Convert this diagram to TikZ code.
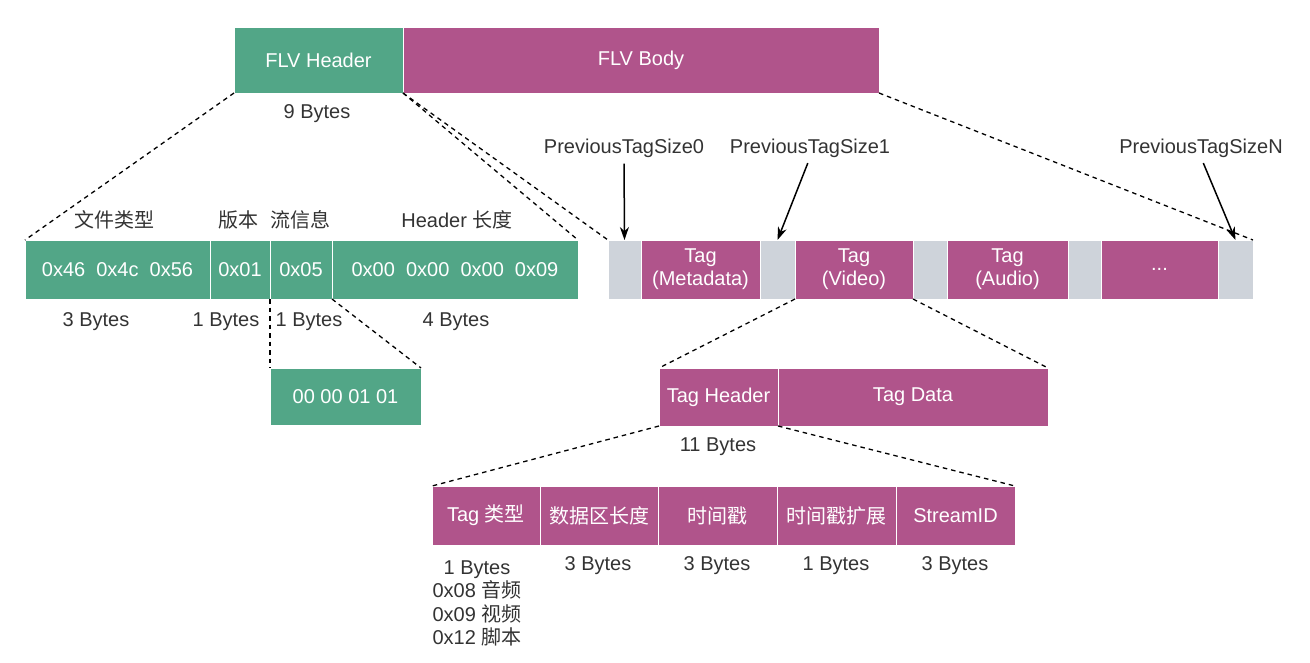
\documentclass[tikz,border=0pt]{standalone}
\usepackage{fontspec}
\setmainfont{Liberation Sans}
\newfontfamily\cjk{Noto Sans CJK SC}
\usetikzlibrary{arrows.meta}

\definecolor{flvgreen}{HTML}{52A687}
\definecolor{flvpink}{HTML}{B0548B}
\definecolor{flvgray}{HTML}{CED3DA}
\definecolor{flvtext}{HTML}{333333}

\begin{document}
\begin{tikzpicture}[x=1pt, y=-1pt,
	cell/.style={draw=white, line width=1pt, anchor=north west, inner sep=0pt, outer sep=0pt,
		text=white, align=center, font=\fontsize{20}{23}\selectfont},
	greencell/.style={cell, fill=flvgreen},
	pinkcell/.style={cell, fill=flvpink},
	graycell/.style={cell, fill=flvgray},
	lbl/.style={text=flvtext, inner sep=0pt, align=center, yshift=-2pt, font=\fontsize{20}{23.5}\selectfont},
	zoomline/.style={dash pattern=on 4.5pt off 4pt, line width=1.3pt},
	pointer/.style={-{Stealth[length=13pt,width=9pt]}, line width=1.5pt, shorten <=6pt}]
	
	\useasboundingbox (0,0) rectangle (1310,662);
	
	% FLV file
	\node [greencell, minimum width=169pt, minimum height=66pt] (hdr) at (234,27) {FLV Header};
	\node [pinkcell, minimum width=476pt, minimum height=66pt] (body) at (403,27) {FLV Body};
	\node [lbl] (hdrsize) at (317,112) {9 Bytes};
	
	% FLV header fields
	\node [greencell, minimum width=185pt, minimum height=59pt] (sig) at (25,240) {0x46~~0x4c~~0x56};
	\node [greencell, minimum width=60pt, minimum height=59pt] (ver) at (210,240) {0x01};
	\node [greencell, minimum width=62pt, minimum height=59pt] (info) at (270,240) {0x05};
	\node [greencell, minimum width=246pt, minimum height=59pt] (len) at (332,240) {0x00~~0x00~~0x00~~0x09};
	
	\node [lbl] (signame) at (114,218) {\cjk 文件类型};
	\node [lbl] (vername) at (238,218) {\cjk 版本};
	\node [lbl] (infoname) at (300,218) {\cjk 流信息};
	\node [lbl] (lenname) at (457,218) {Header {\cjk 长度}};
	
	\node [lbl] (sigsize) at (96,320) {3 Bytes};
	\node [lbl] (versize) at (226,320) {1 Bytes};
	\node [lbl] (infosize) at (309,320) {1 Bytes};
	\node [lbl] (lensize) at (456,320) {4 Bytes};
	
	\node [greencell, minimum width=151pt, minimum height=57pt] (flags) at (270,368) {00 00 01 01};
	
	% FLV body: tags and previous tag sizes
	\node [graycell, minimum width=33pt, minimum height=59pt] (pts0) at (608,240) {};
	\node [pinkcell, minimum width=119pt, minimum height=59pt] (tagmeta) at (641,240) {Tag\\(Metadata)};
	\node [graycell, minimum width=35pt, minimum height=59pt] (pts1) at (760,240) {};
	\node [pinkcell, minimum width=118pt, minimum height=59pt] (tagvideo) at (795,240) {Tag\\(Video)};
	\node [graycell, minimum width=34pt, minimum height=59pt] (pts2) at (913,240) {};
	\node [pinkcell, minimum width=121pt, minimum height=59pt] (tagaudio) at (947,240) {Tag\\(Audio)};
	\node [graycell, minimum width=33pt, minimum height=59pt] (pts3) at (1068,240) {};
	\node [pinkcell, minimum width=117pt, minimum height=59pt] (tagmore) at (1101,240) {...};
	\node [graycell, minimum width=35pt, minimum height=59pt] (ptsn) at (1218,240) {};
	
	\node [lbl] (pts0name) at (624,146) {PreviousTagSize0};
	\node [lbl] (pts1name) at (810,146) {PreviousTagSize1};
	\node [lbl] (ptsnname) at (1201,146) {PreviousTagSizeN};
	
	\draw [pointer] (pts0name.south) -- (pts0.north);
	\draw [pointer] (pts1name.south) -- (pts1.north);
	\draw [pointer] (ptsnname.south) -- (ptsn.north);
	
	% tag
	\node [pinkcell, minimum width=119pt, minimum height=58pt] (taghdr) at (659,368) {Tag Header};
	\node [pinkcell, minimum width=270pt, minimum height=58pt] (tagdata) at (778,368) {Tag Data};
	\node [lbl] (taghdrsize) at (718,445) {11 Bytes};
	
	% tag header fields
	\node [pinkcell, minimum width=108pt, minimum height=59pt] (ttype) at (432,486) {Tag {\cjk 类型}};
	\node [pinkcell, minimum width=118pt, minimum height=59pt] (tsize) at (540,486) {\cjk 数据区长度};
	\node [pinkcell, minimum width=119pt, minimum height=59pt] (tstamp) at (658,486) {\cjk 时间戳};
	\node [pinkcell, minimum width=119pt, minimum height=59pt] (tstampx) at (777,486) {\cjk 时间戳扩展};
	\node [pinkcell, minimum width=119pt, minimum height=59pt] (tstream) at (896,486) {StreamID};
	
	\node [lbl] (ttypesize) at (477,601.5) {1 Bytes\\0x08 {\cjk 音频}\\0x09 {\cjk 视频}\\0x12 {\cjk 脚本}};
	\node [lbl] (tsizesize) at (598,564) {3 Bytes};
	\node [lbl] (tstampsize) at (717,564) {3 Bytes};
	\node [lbl] (tstampxsize) at (836,564) {1 Bytes};
	\node [lbl] (tstreamsize) at (955,564) {3 Bytes};
	
	% zoom lines
	\draw [zoomline] (hdr.south west) -- (sig.north west);
	\draw [zoomline] (hdr.south east) -- (len.north east);
	\draw [zoomline] (hdr.south east) -- (pts0.north west);
	\draw [zoomline] (body.south east) -- (ptsn.north east);
	\draw [zoomline] (info.south west) -- (flags.north west);
	\draw [zoomline] (info.south east) -- (flags.north east);
	\draw [zoomline] (tagvideo.south west) -- (taghdr.north west);
	\draw [zoomline] (tagvideo.south east) -- (tagdata.north east);
	\draw [zoomline] (taghdr.south west) -- (ttype.north west);
	\draw [zoomline] (taghdr.south east) -- (tstream.north east);
	
\end{tikzpicture}
\end{document}
